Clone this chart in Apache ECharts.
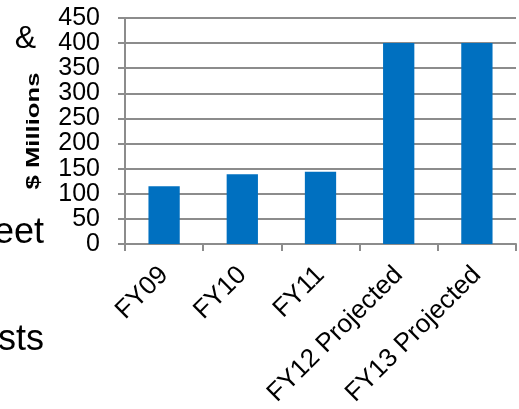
<!DOCTYPE html>
<html>
<head>
<meta charset="utf-8">
<script src="https://cdn.jsdelivr.net/npm/echarts@6/dist/echarts.min.js"></script>
<style>
  html, body { margin: 0; padding: 0; background: #fff; }
  #chart { width: 519px; height: 409px; }
</style>
</head>
<body>
<div id="chart"></div>
<script>
// Funding by fiscal year, $ millions
const categories = ['FY09', 'FY10', 'FY11', 'FY12 Projected', 'FY13 Projected'];
const funding = [115, 139, 144, 400, 400];
const axisTitle = '$ Millions';
// Fragments of neighbouring slide text
const sideText = ['&', 'eet', 'sts'];

const FONT = '"Liberation Sans", Arial, sans-serif';
const chart = echarts.init(document.getElementById('chart'), null, { renderer: 'canvas' });

chart.setOption({
  animation: false,
  backgroundColor: '#fff',
  grid: { left: 125, right: 3, top: 18, bottom: 165, containLabel: false },
  xAxis: {
    type: 'category',
    data: categories,
    axisLine: { show: true, lineStyle: { color: '#8c8c8c', width: 2 } },
    axisTick: { show: true, alignWithLabel: false, length: 7, lineStyle: { color: '#8c8c8c', width: 2 } },
    axisLabel: { rotate: 45, margin: 27, fontSize: 26, color: '#000', fontFamily: FONT, interval: 0 }
  },
  yAxis: {
    type: 'value',
    min: 0, max: 450, interval: 50,
    axisLine: { show: true, lineStyle: { color: '#8c8c8c', width: 2 } },
    axisTick: { show: true, length: 7, lineStyle: { color: '#8c8c8c', width: 2 } },
    axisLabel: { fontSize: 25, color: '#000', fontFamily: FONT, margin: 25 },
    splitLine: { show: true, lineStyle: { color: '#8c8c8c', width: 2 } }
  },
  series: [{
    type: 'bar',
    data: funding,
    barWidth: '40%',
    itemStyle: { color: '#0070C0' }
  }],
  graphic: [
    // vertical axis title, letter-spaced along its length
    { type: 'text', x: 34, y: 131, rotation: Math.PI / 2, scaleX: 1.35,
      style: { text: axisTitle, fontSize: 19, fontWeight: 'bold', fontFamily: FONT, fill: '#000', align: 'center', verticalAlign: 'middle' } },
    { type: 'text', x: 36, y: 23, style: { text: sideText[0], fontSize: 32, fontFamily: FONT, fill: '#000', align: 'right', verticalAlign: 'top' } },
    { type: 'text', x: 44, y: 215, style: { text: sideText[1], fontSize: 36, fontFamily: FONT, fill: '#000', align: 'right', verticalAlign: 'top' } },
    { type: 'text', x: 44, y: 322, style: { text: sideText[2], fontSize: 36, fontFamily: FONT, fill: '#000', align: 'right', verticalAlign: 'top' } }
  ]
});
</script>
</body>
</html>
